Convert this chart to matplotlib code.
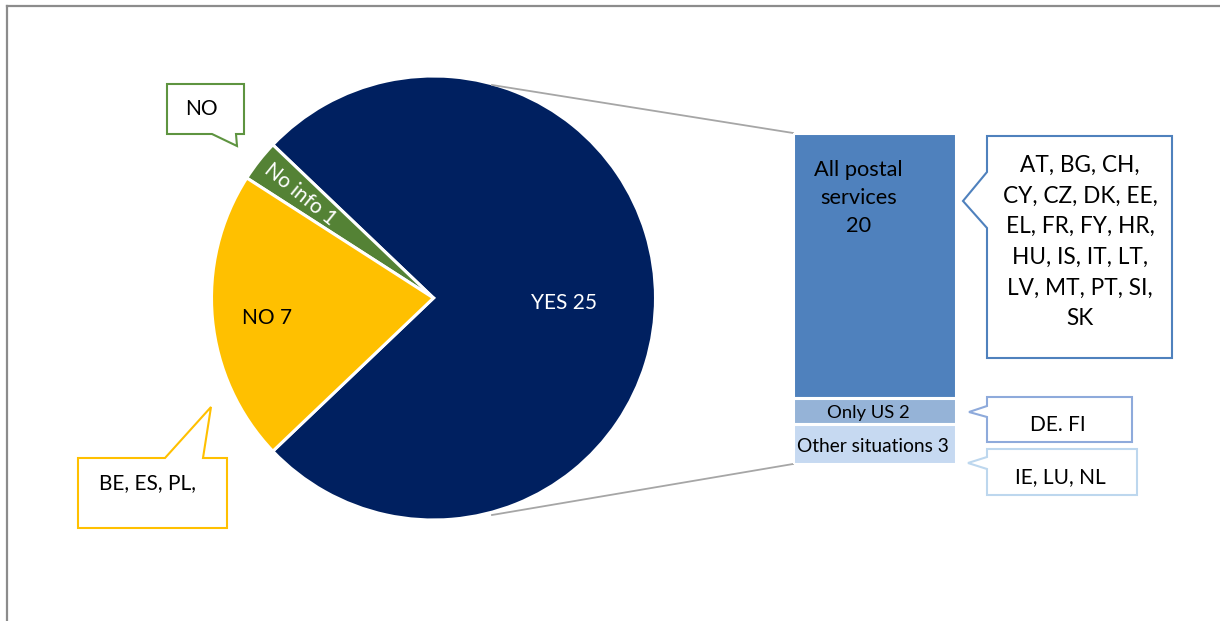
import matplotlib
matplotlib.use("Agg")
import matplotlib.pyplot as plt
from matplotlib.patches import Polygon
import numpy as np

plt.rcParams['font.family'] = ['Lato', 'DejaVu Sans']

# Share of respondents
pie_labels = ["YES 25", "No info 1", "NO 7"]
pie_values = [25, 1, 7]
pie_colors = ["#002060", "#548235", "#FFC000"]

# Breakdown of the YES answers
bar_labels = ["All postal\nservices\n20", "Only US 2", "Other situations 3"]
bar_values = [20, 2, 3]
bar_colors = ["#4F81BD", "#95B3D7", "#C6D9F1"]

# Countries behind each answer
callout_texts = {
    "no_info": "NO",
    "no": "BE, ES, PL, ",
    "all": "AT, BG, CH,\nCY, CZ, DK, EE,\nEL, FR, FY, HR,\nHU, IS, IT, LT,\nLV, MT, PT, SI,\nSK",
    "us": "DE. FI",
    "other": "IE, LU, NL",
}

W, H = 1220, 621
fig = plt.figure(figsize=(W / 100, H / 100), dpi=100)
ax = fig.add_axes([0, 0, 1, 1])


def Y(y):
    return H - y


# Pie chart, YES centred on the right-hand side
total = sum(pie_values)
start = -0.5 * 360 * pie_values[0] / total
cx, cy, r = 433.5, 298, 222
wedges, _ = ax.pie(pie_values, colors=pie_colors, startangle=start,
                   counterclock=True, center=(cx, Y(cy)), radius=r,
                   wedgeprops=dict(edgecolor="white", linewidth=2.2))
ax.set_xlim(0, W)
ax.set_ylim(0, H)
ax.set_aspect("equal")
ax.axis("off")

ax.text(564, Y(303), pie_labels[0], color="white", fontsize=15,
        ha="center", va="center")
ax.text(300, Y(194), pie_labels[1], color="white", fontsize=15,
        ha="center", va="center", rotation=-39, rotation_mode="anchor")
ax.text(267, Y(318), pie_labels[2], color="black", fontsize=15,
        ha="center", va="center")

# Stacked bar for the YES breakdown
bx0, bx1, by0, by1 = 793, 956, 133, 464
bax = fig.add_axes([bx0 / W, 1 - by1 / H, (bx1 - bx0) / W, (by1 - by0) / H])
bottoms = np.concatenate([[0], np.cumsum(bar_values)[:-1]])
bax.bar([0] * len(bar_values), bar_values, bottom=bottoms, width=1.0,
        color=bar_colors, edgecolor="white", linewidth=2.2, align="center")
bax.set_xlim(-0.5, 0.5)
bax.set_ylim(sum(bar_values), 0)
bax.axis("off")

bax.text(-0.1, bottoms[0] + 2.05, bar_labels[0], fontsize=15.7, ha="center",
         va="top", linespacing=1.48)
bax.text(-0.04, bottoms[1] + bar_values[1] / 2 + 0.15, bar_labels[1],
         fontsize=13.3, ha="center", va="center")
bax.text(-0.01, bottoms[2] + bar_values[2] / 2 + 0.15, bar_labels[2],
         fontsize=13.8, ha="center", va="center")

# Connector lines from pie to bar
ax.plot([492, bx0], [Y(85), Y(by0)], color="#A6A6A6", lw=1.3)
ax.plot([492, bx0], [Y(515), Y(by1)], color="#A6A6A6", lw=1.3)


def bubble(pts, edge, lw=1.5):
    poly = Polygon([(x, Y(y)) for x, y in pts], closed=True,
                   facecolor="white", edgecolor=edge, linewidth=lw,
                   joinstyle="miter")
    ax.add_patch(poly)


# Callouts
bubble([(167, 84), (244, 84), (244, 134), (236, 134), (237, 146),
        (212, 134), (167, 134)], "#5E9440")
ax.text(201, Y(109), callout_texts["no_info"], fontsize=15,
        ha="center", va="center")

bubble([(78, 458), (165, 458), (211, 407), (203, 458), (227, 458),
        (227, 528), (78, 528)], "#FFC000")
ax.text(150, Y(483), callout_texts["no"], fontsize=15,
        ha="center", va="center")

bubble([(987, 136), (1172, 136), (1172, 358), (987, 358), (987, 228),
        (963, 201), (987, 172)], "#4F81BD")
ax.text(1080, Y(242), callout_texts["all"], fontsize=16.3,
        ha="center", va="center", linespacing=1.57)

bubble([(987, 397), (1132, 397), (1132, 442), (987, 442), (987, 417),
        (969, 412), (987, 406)], "#8EAADB")
ax.text(1058, Y(425), callout_texts["us"], fontsize=15,
        ha="center", va="center")

bubble([(987, 449), (1137, 449), (1137, 495), (987, 495), (987, 469),
        (968, 463), (987, 457)], "#BDD7EE")
ax.text(1060, Y(477), callout_texts["other"], fontsize=15,
        ha="center", va="center")

# Chart frame (top and left edges)
ax.plot([6.5, W], [Y(5.5), Y(5.5)], color="#8C8C8C", lw=1.6, clip_on=False)
ax.plot([6.5, 6.5], [Y(5.5), 0], color="#8C8C8C", lw=1.6, clip_on=False)

fig.savefig("out.png", dpi=100, facecolor="white")
